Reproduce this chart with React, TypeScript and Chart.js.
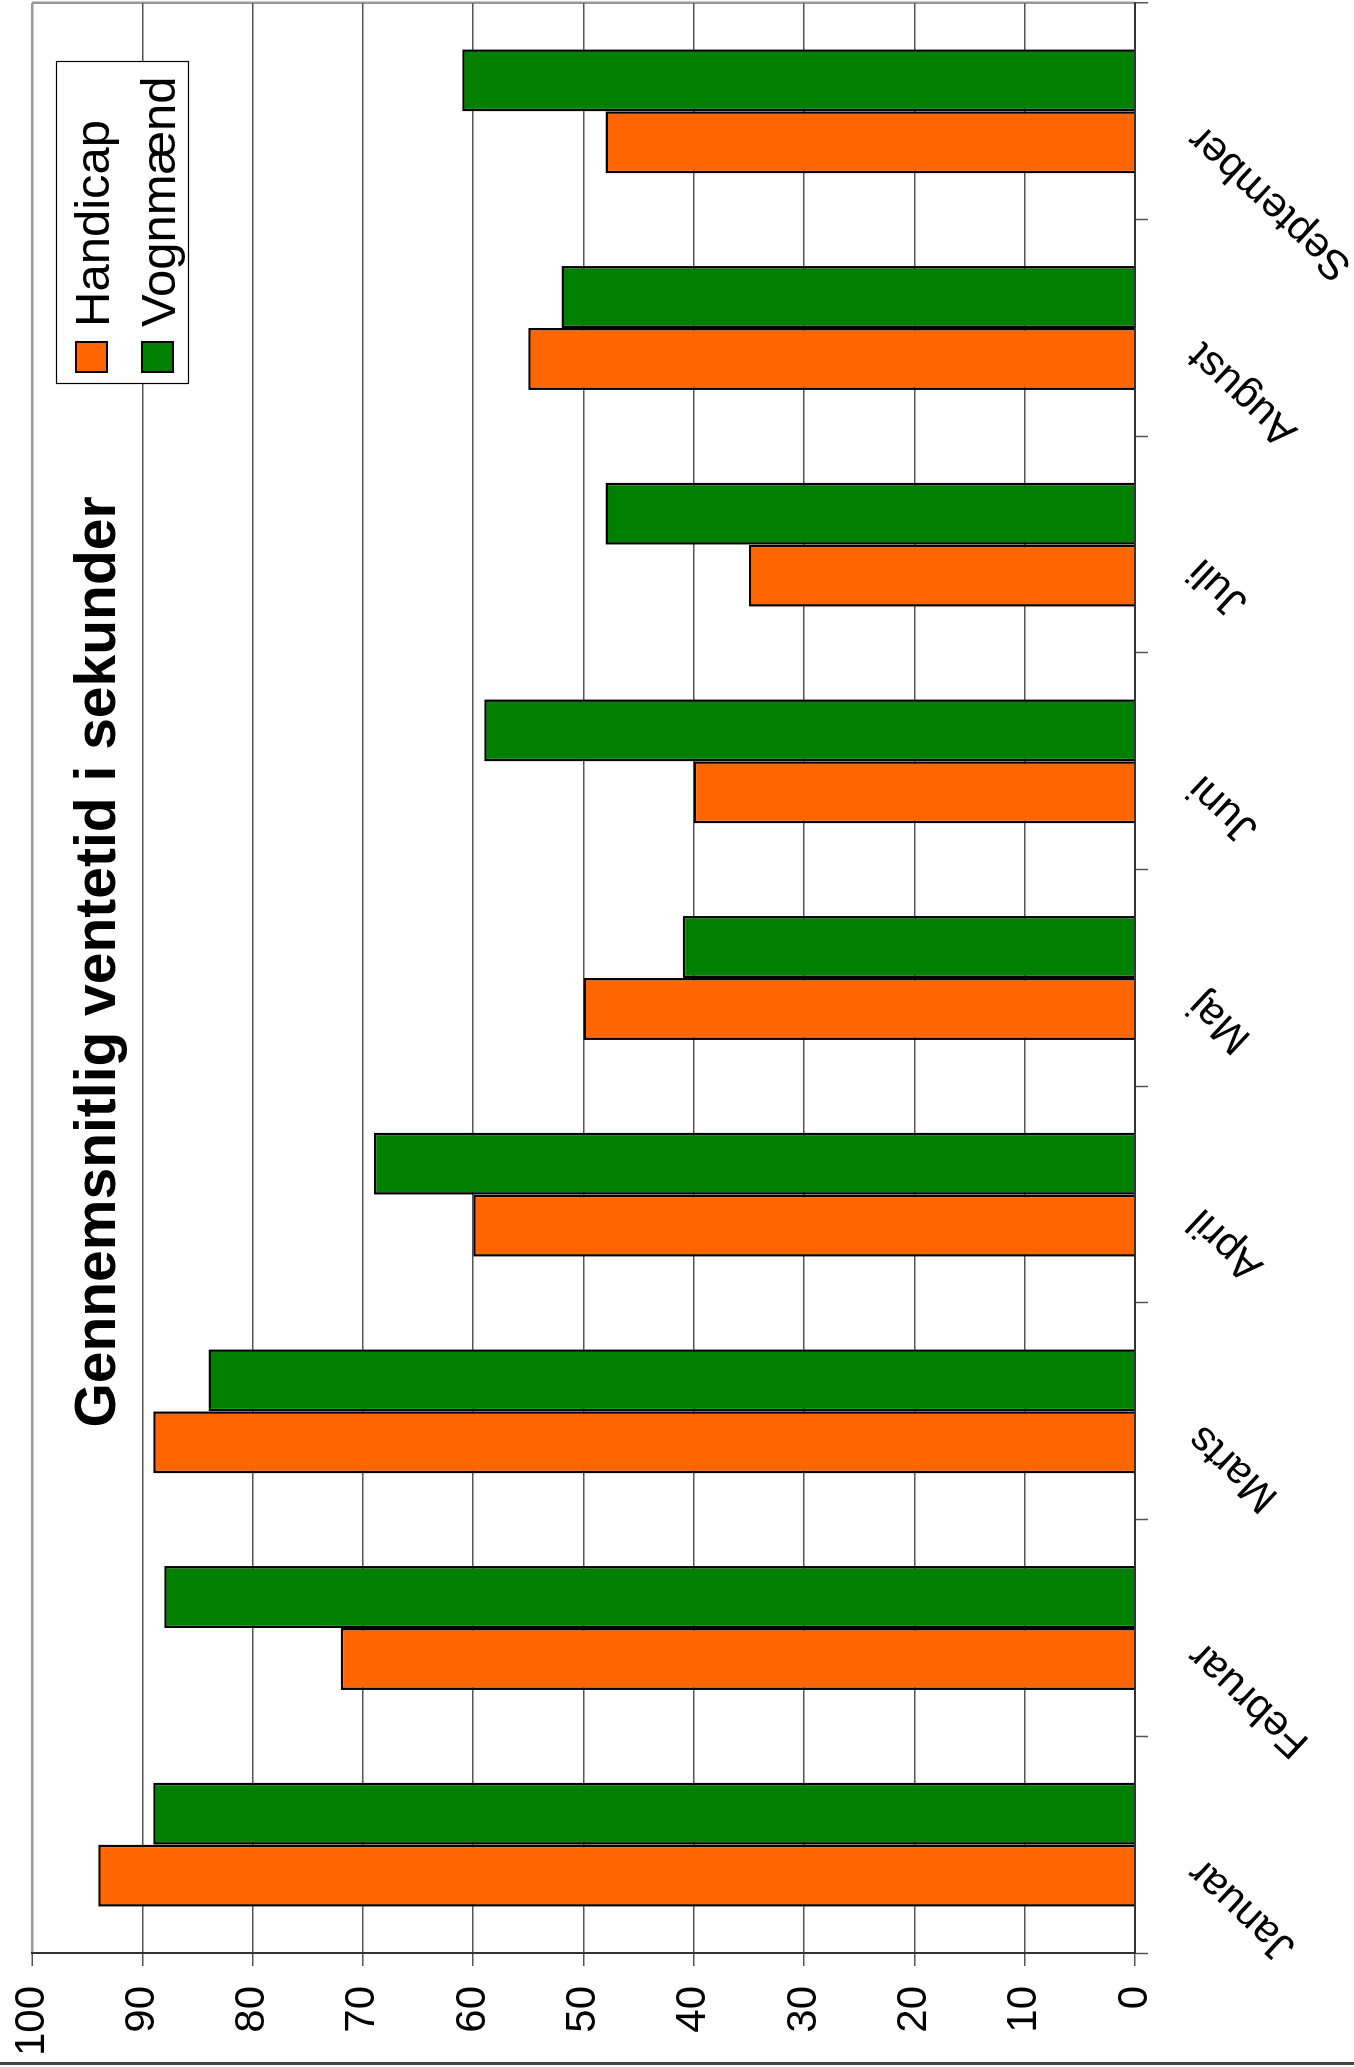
import React, { useEffect, useRef } from "react";
import { Chart, registerables } from "chart.js";

Chart.register(...registerables);

// Monthly average waiting time (seconds)
const MONTHS = ["Januar", "Februar", "Marts", "April", "Maj", "Juni", "Juli", "August", "September"];
const HANDICAP = [94, 72, 89, 60, 50, 40, 35, 55, 48];
const VOGNMAEND = [89, 88, 84, 69, 41, 59, 48, 52, 61];
const SERIES_NAMES = ["Handicap", "Vognmænd"];
const SERIES_COLORS = ["#FF6600", "#008000"];
const Y_MIN = 0;
const Y_MAX = 100;
const Y_STEP = 10;
const TITLE = "Gennemsnitlig ventetid i sekunder";

const FONT = '"Liberation Sans", Arial, Helvetica, sans-serif';

// The chart is laid out landscape and turned a quarter turn counter-clockwise on the page.
const CW = 2067;
const CH = 1354;

const overlayPlugin = {
  id: "overlay",
  afterDraw(chart: any) {
    const ctx = chart.ctx as CanvasRenderingContext2D;
    ctx.save();

    // title
    ctx.fillStyle = "#000";
    ctx.font = `bold 57px ${FONT}`;
    ctx.textAlign = "center";
    ctx.textBaseline = "alphabetic";
    ctx.fillText(TITLE, 1105, 115);

    // legend box
    const bx = 1683, by = 56, bw = 322, bh = 132;
    ctx.fillStyle = "#fff";
    ctx.fillRect(bx, by, bw, bh);
    ctx.strokeStyle = "#000";
    ctx.lineWidth = 1.2;
    ctx.strokeRect(bx + 0.5, by + 0.5, bw, bh);

    ctx.font = `49px ${FONT}`;
    ctx.textAlign = "left";
    chart.data.datasets.forEach((ds: any, i: number) => {
      const top = 76 + i * 66;
      ctx.fillStyle = ds.backgroundColor;
      ctx.fillRect(1695, top, 30, 31);
      ctx.lineWidth = 2;
      ctx.strokeStyle = "#000";
      ctx.strokeRect(1695, top, 30, 31);
      ctx.fillStyle = "#000";
      ctx.fillText(ds.label, 1740, top + 32.5);
    });

    ctx.restore();
  },
};

export default function App() {
  const canvasRef = useRef<HTMLCanvasElement | null>(null);

  useEffect(() => {
    const canvas = canvasRef.current;
    if (!canvas) return;
    const chart = new Chart(canvas, {
      type: "bar",
      data: {
        labels: MONTHS,
        datasets: [HANDICAP, VOGNMAEND].map((values, i) => ({
          label: SERIES_NAMES[i],
          data: values,
          backgroundColor: SERIES_COLORS[i],
          borderColor: "#000",
          borderWidth: 2.5,
          categoryPercentage: 0.572,
          barPercentage: 1,
        })),
      },
      options: {
        responsive: false,
        animation: false,
        devicePixelRatio: 1,
        layout: { padding: { top: 32, right: 3, left: 0, bottom: 0 } },
        plugins: {
          legend: { display: false },
          title: { display: false },
          tooltip: { enabled: false },
        },
        scales: {
          x: {
            type: "category",
            offset: true,
            grid: {
              offset: true,
              drawOnChartArea: true,
              color: (c: any) => (c.index === undefined ? "#999" : "rgba(0,0,0,0)"),
              lineWidth: (c: any) => (c.index === undefined ? 2.5 : 1),
              tickLength: 13,
              tickColor: "#555",
              tickWidth: 1.5,
            },
            border: { color: "#333", width: 2 },
            ticks: {
              autoSkip: false,
              minRotation: 47,
              maxRotation: 47,
              padding: 30,
              labelOffset: -21,
              color: "#000",
              font: { family: FONT, size: 42 },
            },
            afterFit: (s: any) => {
              s.height = 219;
              s.paddingLeft = 0;
              s.paddingRight = 0;
            },
          },
          y: {
            min: Y_MIN,
            max: Y_MAX,
            ticks: {
              stepSize: Y_STEP,
              padding: 20,
              color: "#000",
              font: { family: FONT, size: 42 },
            },
            grid: {
              color: (c: any) => (c.tick && c.tick.value === Y_MAX ? "#999" : "#555"),
              lineWidth: (c: any) => (c.tick && c.tick.value === Y_MAX ? 2.5 : 1.5),
              tickLength: 13,
              tickColor: "#555",
              tickWidth: 1.5,
            },
            border: { color: "#333", width: 2 },
            afterFit: (s: any) => {
              s.width = 114;
              s.paddingTop = 0;
              s.paddingBottom = 0;
            },
          },
        },
      } as any,
      plugins: [overlayPlugin],
    });
    return () => chart.destroy();
  }, []);

  return (
    <div
      style={{
        position: "absolute",
        left: 0,
        top: 0,
        width: CH,
        height: CW,
        overflow: "hidden",
        background: "#fff",
      }}
    >
      <div
        style={{
          position: "absolute",
          left: 0,
          top: 0,
          width: CW,
          height: CH,
          transformOrigin: "0 0",
          transform: `translateY(${CW}px) rotate(-90deg)`,
        }}
      >
        <canvas ref={canvasRef} width={CW} height={CH} style={{ display: "block", width: CW, height: CH }} />
      </div>
      <div
        style={{
          position: "absolute",
          left: 0,
          top: CW - 5,
          width: CH,
          height: 3,
          background: "#444",
        }}
      />
    </div>
  );
}
